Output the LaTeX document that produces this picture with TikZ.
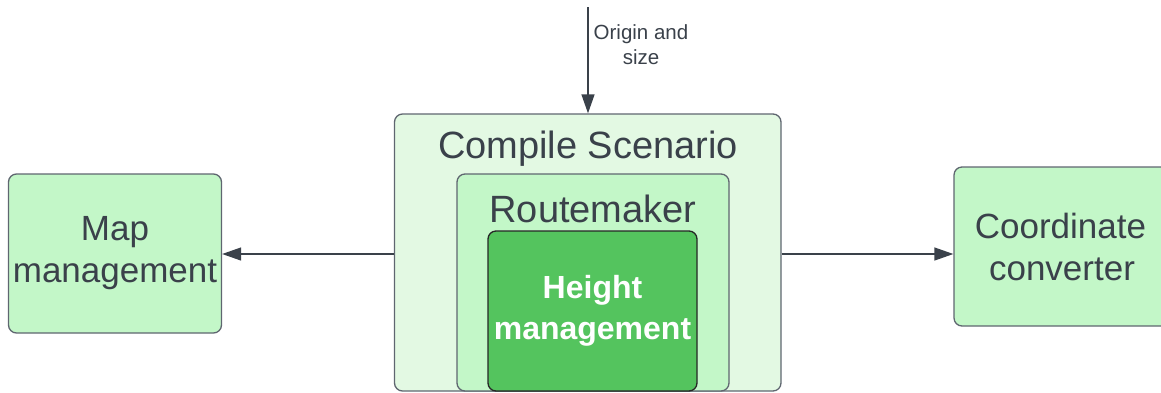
\documentclass[tikz,border=0pt]{standalone}
\usepackage{fontspec}
\setmainfont{Liberation Sans}
\usetikzlibrary{arrows.meta}

\definecolor{inkgray}{HTML}{3A414A}
\definecolor{edgegray}{HTML}{5F6670}
\definecolor{paleGreen}{HTML}{E3F9E3}
\definecolor{softGreen}{HTML}{C3F7C8}
\definecolor{strongGreen}{HTML}{54C45E}

\tikzset{
  box/.style={draw=edgegray, line width=1.3pt, rounded corners=8pt,
              inner sep=0pt, align=center, text=inkgray},
  title/.style={text=inkgray, inner sep=0pt, font=\fontsize{38}{44}\selectfont},
  bodytext/.style={font=\fontsize{35}{42}\selectfont},
  flow/.style={draw=inkgray, line width=1.3pt,
               -{Triangle[length=19pt,width=13pt]}},
  note/.style={text=inkgray, align=center, inner sep=0pt,
               font=\fontsize{20.5}{25}\selectfont}
}

\begin{document}
\begin{tikzpicture}[x=1pt,y=-1pt]
  \useasboundingbox (0,0) rectangle (1161,392);
  \clip (0,0) rectangle (1161,392);

  % nested containers
  \node[box, fill=paleGreen, minimum width=386.5pt, minimum height=277pt]
    (cs) at (587.75,252.5) {};
  \node[title] (cstitle) at (588,149) {Compile Scenario};

  \node[box, fill=softGreen, minimum width=272pt, minimum height=217pt]
    (rm) at (593,282.5) {};
  \node[title] (rmtitle) at (593,209) {Routemaker};

  \node[box, draw=black!85, fill=strongGreen, minimum width=209pt, minimum height=160pt,
        text=white, font=\bfseries\fontsize{32}{41}\selectfont]
    (hm) at (592.5,311) {\raisebox{3pt}{\parbox{209pt}{\centering Height\\management}}};

  % side modules
  \node[box, fill=softGreen, bodytext, minimum width=213pt, minimum height=159pt]
    (map) at (115,253.5) {\raisebox{4pt}{\parbox{213pt}{\centering Map\\management}}};
  \node[box, fill=softGreen, bodytext, minimum width=216pt, minimum height=159pt]
    (cc) at (1062,246.5) {\raisebox{5pt}{\parbox{216pt}{\hspace*{-3pt}\centering Coordinate\\converter}}};

  % connectors
  \coordinate (lvl) at (0,254);
  \coordinate (src) at (588,7);
  \draw[flow] (cs.west |- lvl) -- (map.east |- lvl);
  \draw[flow] (cs.east |- lvl) -- (cc.west |- lvl);
  \draw[flow] (src) -- (src |- cs.north);
  \node[note] (lbl) at (641,44.5) {Origin and\\size};
\end{tikzpicture}
\end{document}
